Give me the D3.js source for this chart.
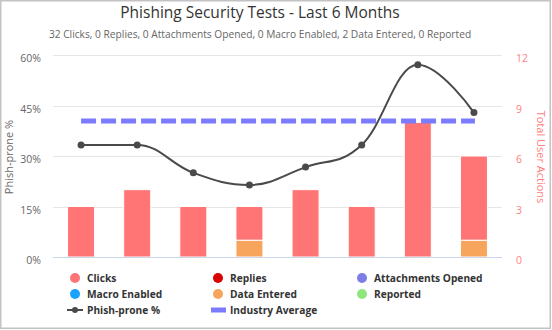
<!DOCTYPE html>
<html>
<head>
<meta charset="utf-8">
<script src="https://cdn.jsdelivr.net/npm/d3@7/dist/d3.min.js"></script>
<style>
  html, body { margin: 0; padding: 0; background: #fff; }
  svg { display: block; font-family: "Open Sans", "DejaVu Sans", Arial, sans-serif; }
</style>
</head>
<body>
<svg id="chart" width="552" height="330"></svg>
<script>
// Phishing test results, one entry per test
const tests = ["Test 1", "Test 2", "Test 3", "Test 4", "Test 5", "Test 6", "Test 7", "Test 8"];
const clicks = [3, 4, 3, 2, 4, 3, 8, 5];
const replies = [0, 0, 0, 0, 0, 0, 0, 0];
const attachmentsOpened = [0, 0, 0, 0, 0, 0, 0, 0];
const macroEnabled = [0, 0, 0, 0, 0, 0, 0, 0];
const dataEntered = [0, 0, 0, 1, 0, 0, 0, 1];
const reported = [0, 0, 0, 0, 0, 0, 0, 0];
const phishPronePct = [33.3, 33.3, 25.0, 21.4, 26.7, 33.3, 57.1, 42.9];
const industryAverage = 40.4;
const pctTicks = [0, 15, 30, 45, 60];
const actionTicks = [0, 3, 6, 9, 12];

const actionSeries = [
  { key: "clicks", name: "Clicks", color: "#ff7474", values: clicks },
  { key: "replies", name: "Replies", color: "#d90000", values: replies },
  { key: "attachments", name: "Attachments Opened", color: "#7d7de6", values: attachmentsOpened },
  { key: "macro", name: "Macro Enabled", color: "#1aa3ff", values: macroEnabled },
  { key: "data", name: "Data Entered", color: "#f7a45c", values: dataEntered },
  { key: "reported", name: "Reported", color: "#8fe67d", values: reported }
];

const svg = d3.select("#chart");
const W = 552, H = 330;
const plot = { left: 53, right: 502, top: 55, bottom: 257 };

// outer frame
svg.append("rect")
  .attr("x", 0.75).attr("y", 0.75).attr("width", W - 2.5).attr("height", H - 2.5)
  .attr("fill", "#fff").attr("stroke", "#c3c3c3").attr("stroke-width", 1.5);

// titles
svg.append("text").attr("x", 260).attr("y", 18).attr("text-anchor", "middle")
  .attr("font-size", 15.5).attr("fill", "#333")
  .text("Phishing Security Tests - Last 6 Months");
svg.append("text").attr("x", 260).attr("y", 38).attr("text-anchor", "middle")
  .attr("font-size", 10.2).attr("fill", "#666")
  .text("32 Clicks, 0 Replies, 0 Attachments Opened, 0 Macro Enabled, 2 Data Entered, 0 Reported");

// scales
const x = d3.scaleBand().domain(tests).range([plot.left, plot.right]).paddingInner(0).paddingOuter(0);
const yPct = d3.scaleLinear().domain([0, 60]).range([plot.bottom, plot.top]);
const yAct = d3.scaleLinear().domain([0, 12]).range([plot.bottom, plot.top]);

// gridlines
svg.append("g").selectAll("line").data(pctTicks.filter(d => d > 0)).join("line")
  .attr("x1", plot.left).attr("x2", plot.right)
  .attr("y1", d => Math.round(yPct(d)) + 0.5).attr("y2", d => Math.round(yPct(d)) + 0.5)
  .attr("stroke", "#e6e6e6").attr("stroke-width", 1);

// left axis
const leftAxis = svg.append("g").attr("transform", `translate(${plot.left - 12},0)`)
  .call(d3.axisLeft(yPct).tickValues(pctTicks).tickFormat(d => d + "%").tickSize(0).tickPadding(0));
leftAxis.select(".domain").remove();
leftAxis.selectAll("text").attr("font-size", 10.5).attr("fill", "#666")
  .attr("font-family", "Open Sans, sans-serif").attr("dy", "0.65em");

// right axis
const rightAxis = svg.append("g").attr("transform", `translate(${plot.right + 14},0)`)
  .call(d3.axisRight(yAct).tickValues(actionTicks).tickSize(0).tickPadding(0));
rightAxis.select(".domain").remove();
rightAxis.selectAll("text").attr("font-size", 10.5).attr("fill", "#ff7f7f")
  .attr("font-family", "Open Sans, sans-serif").attr("dy", "0.65em");

// axis titles
svg.append("text").attr("transform", `translate(12.5,${(plot.top + plot.bottom) / 2 + 1}) rotate(-90)`)
  .attr("text-anchor", "middle").attr("font-size", 11).attr("fill", "#666").text("Phish-prone %");
svg.append("text").attr("transform", `translate(537,${(plot.top + plot.bottom) / 2 + 1}) rotate(90)`)
  .attr("text-anchor", "middle").attr("font-size", 11).attr("fill", "#ff7f7f").text("Total User Actions");

// stacked columns: first series sits on top
const rows = tests.map((t, i) => {
  const r = { test: t };
  actionSeries.forEach(s => { r[s.key] = s.values[i]; });
  return r;
});
const stackKeys = actionSeries.map(s => s.key).slice().reverse();
const stacked = d3.stack().keys(stackKeys)(rows);
const colorOf = Object.fromEntries(actionSeries.map(s => [s.key, s.color]));
const barW = 27;
svg.append("g").selectAll("g").data(stacked).join("g")
  .attr("fill", d => colorOf[d.key])
  .selectAll("rect").data(d => d.filter(p => p[1] - p[0] > 0)).join("rect")
  .attr("x", d => x(d.data.test) + x.bandwidth() / 2 - barW / 2)
  .attr("width", barW)
  .attr("y", d => yAct(d[1]))
  .attr("height", d => yAct(d[0]) - yAct(d[1]))
  .attr("stroke", "#fff").attr("stroke-width", 1);

// baseline
svg.append("line").attr("x1", plot.left).attr("x2", plot.right)
  .attr("y1", plot.bottom + 0.5).attr("y2", plot.bottom + 0.5)
  .attr("stroke", "#ccd6eb").attr("stroke-width", 1);

// industry average
const cx = t => x(t) + x.bandwidth() / 2;
svg.append("line")
  .attr("x1", cx(tests[0])).attr("x2", cx(tests[tests.length - 1]) + 1)
  .attr("y1", yPct(industryAverage)).attr("y2", yPct(industryAverage))
  .attr("stroke", "#7b7bff").attr("stroke-width", 5).attr("stroke-dasharray", "15,5");

// phish-prone spline (smoothed cubic segments)
const pts = phishPronePct.map((v, i) => ({ x: cx(tests[i]), y: yPct(v) }));
function splinePath(p) {
  const smoothing = 1.5, denom = smoothing + 1;
  const path = d3.path();
  path.moveTo(p[0].x, p[0].y);
  for (let i = 1; i < p.length; i++) {
    const cur = p[i], prev = p[i - 1], next = p[i + 1];
    let lcx = cur.x, lcy = cur.y, rcx, rcy;
    if (next) {
      lcx = (smoothing * cur.x + prev.x) / denom;
      lcy = (smoothing * cur.y + prev.y) / denom;
      rcx = (smoothing * cur.x + next.x) / denom;
      rcy = (smoothing * cur.y + next.y) / denom;
      const corr = ((rcy - lcy) * (rcx - cur.x)) / (rcx - lcx) + cur.y - rcy;
      lcy += corr; rcy += corr;
      if (lcy > prev.y && lcy > cur.y) { lcy = Math.max(prev.y, cur.y); rcy = 2 * cur.y - lcy; }
      else if (lcy < prev.y && lcy < cur.y) { lcy = Math.min(prev.y, cur.y); rcy = 2 * cur.y - lcy; }
      if (rcy > next.y && rcy > cur.y) { rcy = Math.max(next.y, cur.y); lcy = 2 * cur.y - rcy; }
      else if (rcy < next.y && rcy < cur.y) { rcy = Math.min(next.y, cur.y); lcy = 2 * cur.y - rcy; }
    }
    const pcx = prev.rcx !== undefined ? prev.rcx : prev.x;
    const pcy = prev.rcy !== undefined ? prev.rcy : prev.y;
    path.bezierCurveTo(pcx, pcy, lcx, lcy, cur.x, cur.y);
    cur.rcx = rcx; cur.rcy = rcy;
  }
  return path.toString();
}
svg.append("path").attr("d", splinePath(pts)).attr("fill", "none")
  .attr("stroke", "#4a4a4a").attr("stroke-width", 2);
svg.append("g").selectAll("circle").data(phishPronePct).join("circle")
  .attr("cx", (d, i) => cx(tests[i])).attr("cy", d => yPct(d)).attr("r", 3.5)
  .attr("fill", "#4a4a4a");

// legend
const legendCols = [75, 218, 362];
const legendRows = [278, 294, 310];
const legendItems = actionSeries.map((s, i) => ({ type: "dot", name: s.name, color: s.color, col: i % 3, row: Math.floor(i / 3) }));
legendItems.push({ type: "line", name: "Phish-prone %", color: "#4a4a4a", col: 0, row: 2 });
legendItems.push({ type: "bar", name: "Industry Average", color: "#7b7bff", col: 1, row: 2 });
const lg = svg.append("g").selectAll("g").data(legendItems).join("g")
  .attr("transform", d => `translate(${legendCols[d.col]},${legendRows[d.row]})`);
lg.filter(d => d.type === "dot").append("circle").attr("r", 5).attr("fill", d => d.color);
lg.filter(d => d.type === "line").append("line").attr("x1", -8).attr("x2", 8)
  .attr("stroke", d => d.color).attr("stroke-width", 2);
lg.filter(d => d.type === "line").append("circle").attr("r", 3).attr("fill", d => d.color);
lg.filter(d => d.type === "bar").append("rect").attr("x", -7).attr("y", -2.5).attr("width", 15).attr("height", 5)
  .attr("fill", d => d.color);
lg.append("text").attr("x", 12).attr("y", 4).attr("font-size", 10.2).attr("font-weight", "bold")
  .attr("fill", "#333").text(d => d.name);
</script>
</body>
</html>
